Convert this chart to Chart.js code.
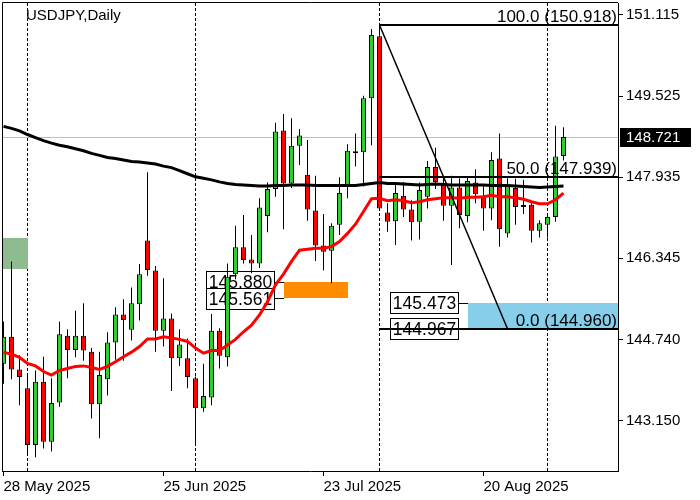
<!DOCTYPE html>
<html>
<head>
<meta charset="utf-8">
<script src="https://cdn.jsdelivr.net/npm/chart.js@4.4.1/dist/chart.umd.min.js"></script>
<style>
html, body { margin: 0; padding: 0; background: #fff; }
#wrap { width: 700px; height: 500px; }
</style>
</head>
<body>
<div id="wrap"><canvas id="chart" width="700" height="500"></canvas></div>
<script>
// USDJPY daily candles, 28 May 2025 - 3 Sep 2025
const days = [
    '2025-05-28','2025-05-29','2025-05-30','2025-06-02','2025-06-03','2025-06-04','2025-06-05','2025-06-06','2025-06-09','2025-06-10',
    '2025-06-11','2025-06-12','2025-06-13','2025-06-16','2025-06-17','2025-06-18','2025-06-19','2025-06-20','2025-06-23','2025-06-24',
    '2025-06-25','2025-06-26','2025-06-27','2025-06-30','2025-07-01','2025-07-02','2025-07-03','2025-07-04','2025-07-07','2025-07-08',
    '2025-07-09','2025-07-10','2025-07-11','2025-07-14','2025-07-15','2025-07-16','2025-07-17','2025-07-18','2025-07-21','2025-07-22',
    '2025-07-23','2025-07-24','2025-07-25','2025-07-28','2025-07-29','2025-07-30','2025-07-31','2025-08-01','2025-08-04','2025-08-05',
    '2025-08-06','2025-08-07','2025-08-08','2025-08-11','2025-08-12','2025-08-13','2025-08-14','2025-08-15','2025-08-18','2025-08-19',
    '2025-08-20','2025-08-21','2025-08-22','2025-08-25','2025-08-26','2025-08-27','2025-08-28','2025-08-29','2025-09-01','2025-09-02',
    '2025-09-03'
];

const open = [
    144.27,144.80,144.16,143.79,142.68,143.92,142.74,143.51,144.82,144.54,
    144.82,144.51,143.48,143.97,144.69,145.24,144.94,145.44,146.69,146.10,
    144.92,145.16,144.38,144.38,143.99,143.40,143.61,144.92,144.40,146.03,
    146.56,146.32,146.24,147.17,147.70,148.85,147.81,148.55,147.98,147.28,
    146.59,146.49,147.00,147.77,148.43,148.42,149.48,150.70,147.24,147.07,
    147.57,147.30,147.06,147.55,148.13,147.78,147.37,147.73,147.17,147.83,
    147.57,147.32,148.30,146.83,147.72,147.37,147.39,146.88,147.00,147.15,148.35
];
const high = [
    145.10,146.28,144.44,144.07,144.14,144.41,143.99,145.10,144.95,145.31,
    145.46,144.58,144.51,144.89,145.38,145.54,145.77,146.23,148.03,146.19,
    145.95,145.26,144.95,144.77,144.02,144.27,145.25,144.97,146.24,146.98,
    147.19,146.80,147.52,147.83,149.00,149.17,149.09,148.88,148.66,147.96,
    147.21,147.03,147.93,148.58,148.79,149.53,150.84,150.92,147.42,147.82,
    147.84,147.48,147.83,148.25,148.51,147.96,147.96,147.91,147.94,148.09,
    147.76,148.42,148.79,147.91,147.90,147.88,147.45,147.09,147.17,148.94,148.91
];
const low = [
    143.88,143.97,143.46,142.48,142.44,142.61,142.55,143.43,143.99,144.40,
    144.33,143.20,142.81,143.65,144.35,144.33,144.73,145.12,146.00,144.51,
    144.61,143.74,144.23,143.79,142.68,143.33,143.46,144.18,144.22,145.93,
    146.24,146.05,146.15,146.85,147.55,146.91,147.72,148.17,147.08,146.29,
    146.10,145.85,146.80,147.52,148.14,147.75,148.56,147.29,146.86,146.60,
    147.15,146.69,146.71,147.32,147.70,147.08,146.21,146.93,147.05,147.42,
    146.88,147.09,146.57,146.75,147.00,147.21,146.65,146.75,146.75,147.06,148.26
];
const close = [
    144.80,144.16,144.01,142.68,143.92,142.74,143.50,144.85,144.54,144.82,
    144.53,143.48,144.05,144.69,145.24,145.13,145.46,146.03,146.11,144.92,
    145.16,144.38,144.65,144.01,143.40,143.64,144.92,144.43,145.98,146.56,
    146.31,146.24,147.34,147.70,148.83,147.81,148.55,148.75,147.30,146.59,
    146.47,146.98,147.62,148.45,148.40,149.48,150.72,147.32,147.06,147.62,
    147.30,147.05,147.68,148.13,147.84,147.37,147.73,147.19,147.86,147.60,
    147.32,148.27,146.91,147.78,147.35,147.35,146.88,147.03,147.15,148.34,148.721
];

// moving averages
const maFast = [
    144.50,144.46,144.40,144.28,144.23,144.12,144.05,144.14,144.18,144.22,
    144.23,144.20,144.16,144.22,144.31,144.41,144.50,144.61,144.76,144.76,
    144.80,144.78,144.75,144.71,144.58,144.48,144.53,144.53,144.64,144.75,
    144.90,145.03,145.23,145.49,145.82,146.03,146.28,146.50,146.52,146.54,
    146.54,146.57,146.67,146.83,147.01,147.26,147.51,147.52,147.47,147.49,
    147.47,147.43,147.45,147.49,147.51,147.53,147.53,147.52,147.54,147.54,
    147.55,147.58,147.55,147.55,147.53,147.50,147.45,147.41,147.41,147.49,147.62
];
const maSlow = [
    148.93,148.89,148.84,148.77,148.71,148.65,148.60,148.56,148.53,148.49,
    148.45,148.40,148.36,148.32,148.30,148.27,148.24,148.23,148.21,148.19,
    148.15,148.12,148.06,148.00,147.94,147.91,147.88,147.84,147.81,147.79,
    147.78,147.77,147.76,147.76,147.77,147.77,147.78,147.78,147.78,147.77,
    147.77,147.77,147.77,147.77,147.77,147.79,147.81,147.83,147.81,147.81,
    147.80,147.79,147.78,147.79,147.80,147.79,147.78,147.78,147.78,147.78,
    147.78,147.77,147.77,147.77,147.76,147.75,147.74,147.73,147.74,147.75,147.76
];

const yTicks = [151.115, 149.525, 147.935, 146.345, 144.740, 143.150];
const xTickIndex = [0, 20, 40, 60];
const xTickLabels = ['28 May 2025', '25 Jun 2025', '23 Jul 2025', '20 Aug 2025'];
const monthStarts = [3, 24, 47, 68];
const lastPrice = 148.721;

// drawn objects (bar index range, price levels)
const greenZone = [-1, 3, 146.740, 146.131];
const orangeZone = [35, 43, 145.880, 145.561];
const blueZone = [58, 90, 145.473, 144.967];
const fibFrom = [47, 150.918];
const fibTo = [63, 144.960];
const fibLevels = [100.0, 50.0, 0.0];

const labelFont = '15px "Liberation Sans", Arial, sans-serif';
const objFont = '17.5px "Liberation Sans", Arial, sans-serif';
const fibFont = '17px "Liberation Sans", Arial, sans-serif';

function priceTag(ctx, text, right, yc) {
    ctx.font = objFont;
    const w = Math.round(ctx.measureText(text).width) + 5;
    const h = 21;
    const l = Math.round(right - w) + 0.5;
    const t = Math.round(yc - h / 2) + 0.5;
    ctx.fillStyle = '#fff';
    ctx.fillRect(l, t, w, h);
    ctx.strokeStyle = '#000';
    ctx.lineWidth = 1;
    ctx.strokeRect(l, t, w, h);
    ctx.fillStyle = '#000';
    ctx.textAlign = 'center';
    ctx.textBaseline = 'middle';
    ctx.fillText(text, l + w / 2, t + h / 2 + 1);
}

function zone(ctx, x, y, z, color) {
    const x0 = x.getPixelForValue(z[0]);
    const x1 = x.getPixelForValue(z[1]);
    const y0 = y.getPixelForValue(z[2]);
    const y1 = y.getPixelForValue(z[3]);
    ctx.fillStyle = color;
    ctx.fillRect(Math.round(x0), Math.round(y0), Math.round(x1) - Math.round(x0), Math.round(y1) - Math.round(y0));
}

const overlay = {
    id: 'overlay',
    beforeDatasetsDraw(chart) {
        const { ctx, chartArea: a, scales: { x, y } } = chart;
        ctx.save();
        ctx.beginPath();
        ctx.rect(a.left, a.top, a.right - a.left, a.bottom - a.top);
        ctx.clip();

        // last price line
        const py = Math.round(y.getPixelForValue(lastPrice)) + 0.5;
        ctx.strokeStyle = '#c0c0c0';
        ctx.lineWidth = 1;
        ctx.beginPath();
        ctx.moveTo(a.left, py);
        ctx.lineTo(a.right, py);
        ctx.stroke();

        // period separators
        ctx.strokeStyle = '#000';
        ctx.setLineDash([3, 2]);
        monthStarts.forEach(i => {
            const px = Math.floor(x.getPixelForValue(i)) + 0.5;
            ctx.beginPath();
            ctx.moveTo(px, a.top);
            ctx.lineTo(px, a.bottom);
            ctx.stroke();
        });
        ctx.setLineDash([]);

        zone(ctx, x, y, greenZone, '#8fbc8f');
        zone(ctx, x, y, orangeZone, '#ff8c00');
        zone(ctx, x, y, blueZone, '#87ceeb');

        // price tags of the zones
        [[orangeZone, 10], [blueZone, 10]].forEach(([z, gap]) => {
            const left = Math.round(x.getPixelForValue(z[0]));
            [z[2], z[3]].forEach(v => {
                const yc = y.getPixelForValue(v);
                ctx.strokeStyle = '#000';
                ctx.lineWidth = 1;
                ctx.beginPath();
                ctx.moveTo(left - gap, Math.round(yc) + 0.5);
                ctx.lineTo(left, Math.round(yc) + 0.5);
                ctx.stroke();
                priceTag(ctx, v.toFixed(3), left - gap, yc);
            });
        });
        ctx.restore();
    },
    afterDatasetsDraw(chart) {
        const { ctx, chartArea: a, scales: { x, y } } = chart;
        ctx.save();
        ctx.beginPath();
        ctx.rect(a.left, a.top, a.right - a.left, a.bottom - a.top);
        ctx.clip();

        // fibonacci
        const fx = Math.floor(x.getPixelForValue(fibFrom[0]));
        ctx.strokeStyle = '#000';
        ctx.lineWidth = 1.5;
        ctx.beginPath();
        ctx.moveTo(x.getPixelForValue(fibFrom[0]), y.getPixelForValue(fibFrom[1]));
        ctx.lineTo(x.getPixelForValue(fibTo[0]), y.getPixelForValue(fibTo[1]));
        ctx.stroke();

        ctx.font = fibFont;
        ctx.textAlign = 'right';
        ctx.textBaseline = 'alphabetic';
        fibLevels.forEach(lv => {
            const price = fibTo[1] + (fibFrom[1] - fibTo[1]) * lv / 100;
            const ly = Math.round(y.getPixelForValue(price));
            ctx.lineWidth = 2;
            ctx.beginPath();
            ctx.moveTo(fx, ly);
            ctx.lineTo(a.right, ly);
            ctx.stroke();
            ctx.fillStyle = '#000';
            ctx.fillText(lv.toFixed(1) + ' (' + price.toFixed(3) + ')', a.right - 1, ly - 3);
        });
        ctx.restore();
    },
    afterDraw(chart) {
        const { ctx, chartArea: a, scales: { y } } = chart;
        ctx.save();
        // frame top/left
        ctx.strokeStyle = '#000';
        ctx.lineWidth = 1;
        ctx.beginPath();
        ctx.moveTo(a.left + 0.5, a.bottom);
        ctx.lineTo(a.left + 0.5, a.top - 0.5);
        ctx.lineTo(a.right, a.top - 0.5);
        ctx.stroke();

        // title
        ctx.font = labelFont;
        ctx.fillStyle = '#000';
        ctx.textAlign = 'left';
        ctx.textBaseline = 'alphabetic';
        ctx.fillText('USDJPY,Daily', 26, 20);

        // last price tag on the axis
        const py = y.getPixelForValue(lastPrice);
        ctx.fillStyle = '#000';
        ctx.fillRect(a.right + 2, Math.round(py) - 9, 71, 19);
        ctx.fillStyle = '#fff';
        ctx.textBaseline = 'middle';
        ctx.fillText(lastPrice.toFixed(3), a.right + 8, Math.round(py) + 1);
        ctx.restore();
    }
};

const wicks = days.map((d, i) => ({ x: i, y: [low[i], high[i]] }));
const bodies = days.map((d, i) => ({ x: i, y: [open[i], close[i]] }));
const bodyColors = days.map((d, i) => close[i] >= open[i] ? '#32cd32' : '#ff0000');

const ctx = document.getElementById('chart').getContext('2d');
const chart = new Chart(ctx, {
    type: 'bar',
    data: {
        datasets: [
            {
                type: 'line',
                data: maSlow.map((v, i) => ({ x: i, y: v })),
                borderColor: '#000',
                borderWidth: 3,
                pointRadius: 0,
                tension: 0,
                order: 0
            },
            {
                type: 'line',
                data: maFast.map((v, i) => ({ x: i, y: v })),
                borderColor: '#ff0000',
                borderWidth: 3,
                pointRadius: 0,
                tension: 0,
                order: 0
            },
            {
                data: wicks,
                backgroundColor: '#000',
                barThickness: 1,
                grouped: false,
                inflateAmount: 0,
                order: 2
            },
            {
                data: bodies,
                backgroundColor: bodyColors,
                borderColor: '#000',
                borderWidth: 1,
                borderSkipped: false,
                barThickness: 5,
                minBarLength: 2,
                grouped: false,
                inflateAmount: 0,
                order: 1
            }
        ]
    },
    options: {
        responsive: false,
        animation: false,
        devicePixelRatio: 1,
        layout: { padding: { left: 2, top: 3, right: 0, bottom: 0 } },
        plugins: {
            legend: { display: false },
            tooltip: { enabled: false }
        },
        scales: {
            x: {
                type: 'linear',
                min: -0.1875,
                max: 76.8125,
                offset: false,
                grid: { drawOnChartArea: false, offset: false, tickLength: 5, color: '#000' },
                border: { display: true, color: '#000' },
                afterBuildTicks: s => { s.ticks = xTickIndex.map(v => ({ value: v })); },
                afterFit: s => { s.height = 29; s.paddingLeft = 0; s.paddingRight = 0; },
                ticks: {
                    autoSkip: false,
                    maxRotation: 0,
                    align: 'start',
                    padding: 2,
                    color: '#000',
                    font: { family: '"Liberation Sans", Arial, sans-serif', size: 15 },
                    callback: v => xTickLabels[xTickIndex.indexOf(v)]
                }
            },
            y: {
                position: 'right',
                min: 142.168,
                max: 151.350,
                grid: { drawOnChartArea: false, tickLength: 5, color: '#000' },
                border: { display: true, color: '#000' },
                afterBuildTicks: s => { s.ticks = yTicks.map(v => ({ value: v })); },
                afterFit: s => { s.width = 82; s.paddingTop = 0; s.paddingBottom = 0; },
                ticks: {
                    autoSkip: false,
                    padding: 3,
                    color: '#000',
                    font: { family: '"Liberation Sans", Arial, sans-serif', size: 15 },
                    callback: v => v.toFixed(3)
                }
            }
        }
    },
    plugins: [overlay]
});
</script>
</body>
</html>
